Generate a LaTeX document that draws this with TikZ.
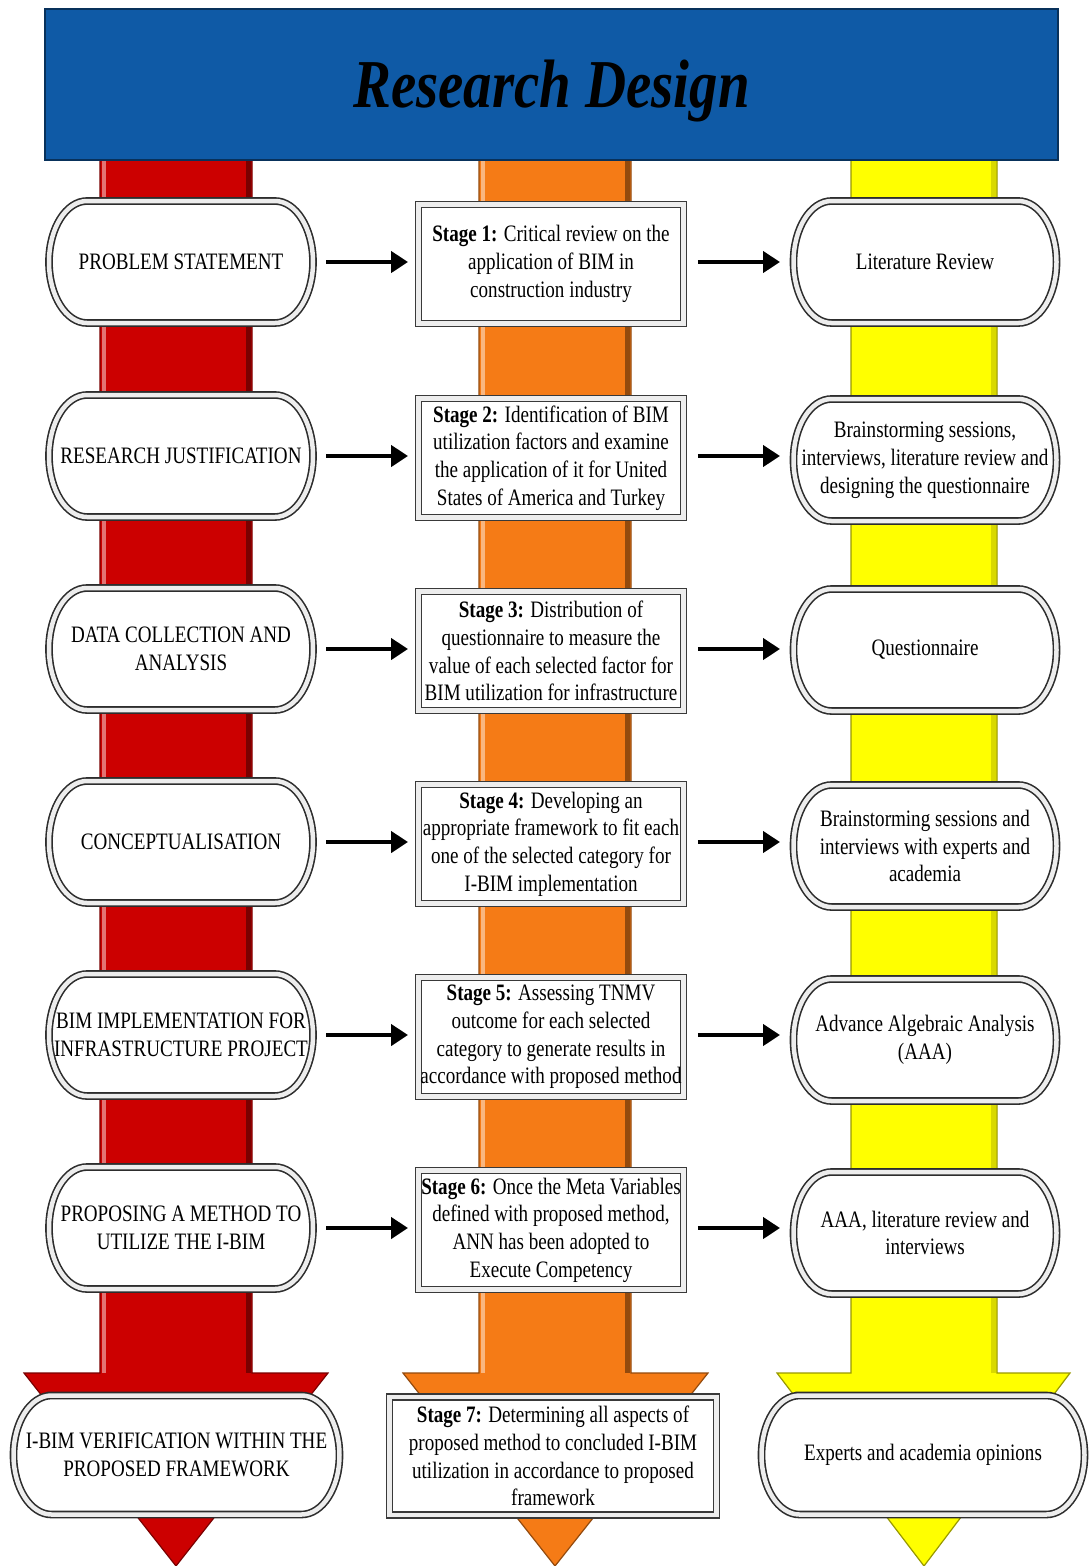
\documentclass[tikz,border=0pt]{standalone}
\usepackage{fontspec}
\setmainfont[FakeStretch=0.81]{Liberation Serif}
\newfontfamily\titlefont[FakeStretch=0.83]{Liberation Serif}
\usetikzlibrary{arrows.meta}

\definecolor{titleblue}{HTML}{0F5AA6}
\definecolor{barred}{HTML}{CC0000}
\definecolor{barorange}{HTML}{F57B16}
\definecolor{baryellow}{HTML}{FFFF00}

\tikzset{
  titlebox/.style={fill=titleblue, draw=titleblue!55!black, line width=0.04cm,
    font=\titlefont\bfseries\itshape\fontsize{39}{44}\selectfont,
    text height=26pt, text depth=0pt},
  pillframe/.style={draw=gray!35!black, double=gray!14, double distance=0.09cm,
    line width=0.032cm, fill=white},
  pilltext/.style={inner sep=0pt, outer sep=0pt, align=center,
    font=\fontsize{13.4}{15.8}\selectfont},
  stagebox/.style={draw=gray!45!black, double=gray!14, double distance=0.09cm,
    line width=0.028cm, fill=white, inner sep=0pt, outer sep=0pt, align=center,
    font=\fontsize{13.4}{15.8}\selectfont},
  flow/.style={line width=0.09cm, -{Triangle[length=0.34cm,width=0.42cm]}},
}

% capsule: name, cx, cy, w, h, text
\newcommand{\pill}[6]{%
  \pgfmathsetmacro{\pillxa}{#2-#4/2+38}
  \pgfmathsetmacro{\pillxb}{#2+#4/2-38}
  \pgfmathsetmacro{\pillya}{#3-#5/2}
  \pgfmathsetmacro{\pillyb}{#3+#5/2}
  \pgfmathsetmacro{\pillr}{#5/2}
  \filldraw[pillframe] (\pillxa,\pillya) -- (\pillxb,\pillya)
    arc[start angle=-90, end angle=90, x radius=38, y radius=\pillr]
    -- (\pillxa,\pillyb)
    arc[start angle=90, end angle=270, x radius=38, y radius=\pillr] -- cycle;
  \node[pilltext, minimum width=#4*0.02cm, minimum height=#5*0.02cm] (#1) at (#2,#3) {#6};
}

\begin{document}
\begin{tikzpicture}[x=0.02cm, y=-0.02cm]

\useasboundingbox (0,0) rectangle (1089,1566);


% Red column
\filldraw[fill=barred, draw=barred!60!black, line width=0.024cm]
(100,150) -- (252,150) -- (252,1373) -- (328,1373) -- (176,1566) -- (24,1373) -- (100,1373) -- cycle;
\fill[barred!55!white] (102,150) rectangle (106,1373);
\fill[barred!60!black] (246,150) rectangle (251,1373);


% Orange column
\filldraw[fill=barorange, draw=barorange!60!black, line width=0.024cm]
(479,150) -- (631,150) -- (631,1373) -- (708,1373) -- (555,1566) -- (403,1373) -- (479,1373) -- cycle;
\fill[barorange!55!white] (481,150) rectangle (485,1373);
\fill[barorange!60!black] (625,150) rectangle (630,1373);


% Yellow column
\filldraw[fill=baryellow, draw=baryellow!60!black, line width=0.024cm]
(851,150) -- (997,150) -- (997,1373) -- (1070,1373) -- (924,1566) -- (777,1373) -- (851,1373) -- cycle;
\fill[baryellow!85!black] (991,150) rectangle (996,1373);


% Title
\node[titlebox, minimum width=20.26cm, minimum height=3.04cm] (title) at (551.5,84.5) {Research Design};


% Row 1
\pill{prob}{181}{262}{264}{122}{PROBLEM STATEMENT}
\node[stagebox, minimum width=5.3cm, minimum height=2.38cm] (st1) at (551,264)
{\textbf{Stage 1:} Critical review on the\\application of BIM in\\construction industry};
\pill{lit}{925}{262}{263}{122}{Literature Review}

\draw[flow, shorten <=0.26cm, shorten >=0.21cm] (prob.east) -- (prob.east -| st1.west);
\draw[flow, shorten <=0.29cm, shorten >=0.27cm] (st1.east |- prob.east) -- (lit.west |- prob.east);


% Row 2
\pill{just}{181}{456}{264}{122}{RESEARCH JUSTIFICATION}
\node[stagebox, minimum width=5.3cm, minimum height=2.38cm] (st2) at (551,458)
{\textbf{Stage 2:} Identification of BIM\\utilization factors and examine\\the application of it for United\\States of America and Turkey};
\pill{brain}{925}{460}{263}{122}{Brainstorming sessions,\\interviews, literature review and\\designing the questionnaire}

\draw[flow, shorten <=0.26cm, shorten >=0.21cm] (just.east) -- (just.east -| st2.west);
\draw[flow, shorten <=0.29cm, shorten >=0.27cm] (st2.east |- just.east) -- (brain.west |- just.east);


% Row 3
\pill{data}{181}{649}{264}{122}{DATA COLLECTION AND\\ANALYSIS}
\node[stagebox, minimum width=5.3cm, minimum height=2.38cm] (st3) at (551,651)
{\textbf{Stage 3:} Distribution of\\questionnaire to measure the\\value of each selected factor for\\BIM utilization for infrastructure};
\pill{quest}{925}{650}{263}{122}{Questionnaire}

\draw[flow, shorten <=0.26cm, shorten >=0.21cm] (data.east) -- (data.east -| st3.west);
\draw[flow, shorten <=0.29cm, shorten >=0.27cm] (st3.east |- data.east) -- (quest.west |- data.east);


% Row 4
\pill{concept}{181}{842}{264}{122}{CONCEPTUALISATION}
\node[stagebox, minimum width=5.3cm, minimum height=2.38cm] (st4) at (551,844)
{\textbf{Stage 4:} Developing an\\appropriate framework to fit each\\one of the selected category for\\I-BIM implementation};
\pill{experts}{925}{846}{263}{122}{Brainstorming sessions and\\interviews with experts and\\academia}

\draw[flow, shorten <=0.26cm, shorten >=0.21cm] (concept.east) -- (concept.east -| st4.west);
\draw[flow, shorten <=0.29cm, shorten >=0.27cm] (st4.east |- concept.east) -- (experts.west |- concept.east);


% Row 5
\pill{impl}{181}{1035}{264}{122}{BIM IMPLEMENTATION FOR\\INFRASTRUCTURE PROJECT}
\node[stagebox, minimum width=5.3cm, minimum height=2.38cm] (st5) at (551,1037)
{\textbf{Stage 5:} Assessing TNMV\\outcome for each selected\\category to generate results in\\accordance with proposed method};
\pill{aaa}{925}{1040}{263}{122}{Advance Algebraic Analysis\\(AAA)}

\draw[flow, shorten <=0.26cm, shorten >=0.21cm] (impl.east) -- (impl.east -| st5.west);
\draw[flow, shorten <=0.29cm, shorten >=0.27cm] (st5.east |- impl.east) -- (aaa.west |- impl.east);


% Row 6
\pill{method}{181}{1228}{264}{122}{PROPOSING A METHOD TO\\UTILIZE THE I-BIM}
\node[stagebox, minimum width=5.3cm, minimum height=2.38cm] (st6) at (551,1230)
{\textbf{Stage 6:} Once the Meta Variables\\defined with proposed method,\\ANN has been adopted to\\Execute Competency};
\pill{aaalit}{925}{1233}{263}{122}{AAA, literature review and\\interviews}

\draw[flow, shorten <=0.26cm, shorten >=0.21cm] (method.east) -- (method.east -| st6.west);
\draw[flow, shorten <=0.29cm, shorten >=0.27cm] (st6.east |- method.east) -- (aaalit.west |- method.east);


% Row 7 (no arrows)
\pill{verif}{176.5}{1455}{326}{119}{I-BIM VERIFICATION WITHIN THE\\PROPOSED FRAMEWORK}
\node[stagebox, minimum width=6.54cm, minimum height=2.36cm] (st7) at (553,1456)
{\textbf{Stage 7:} Determining all aspects of\\proposed method to concluded I-BIM\\utilization in accordance to proposed\\framework};
\pill{opin}{923}{1455}{323}{119}{Experts and academia opinions}


\end{tikzpicture}
\end{document}
